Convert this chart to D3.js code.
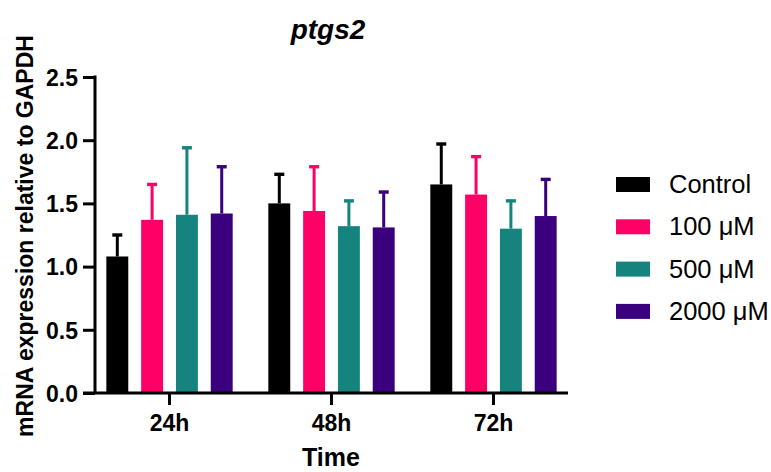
<!DOCTYPE html>
<html>
<head>
<meta charset="utf-8">
<script src="https://cdn.jsdelivr.net/npm/d3@7"></script>
<style>
  body { margin: 0; background: #fff; }
  svg { font-family: 'Liberation Sans', Arial, sans-serif; }
</style>
</head>
<body>
<div id="plot"></div>
<script>
// data
const times = ['24h', '48h', '72h'];
const groups = ['Control', '100 \u03bcM', '500 \u03bcM', '2000 \u03bcM'];
const colors = ['#000000', '#ff0066', '#16837e', '#3a007d'];
// mean per group, one array per time point
const means = [
    [1.08, 1.37, 1.41, 1.42],
    [1.50, 1.44, 1.32, 1.31],
    [1.65, 1.57, 1.30, 1.40]
];
// top of error bar
const errTop = [
    [1.25, 1.65, 1.94, 1.79],
    [1.73, 1.79, 1.52, 1.59],
    [1.97, 1.87, 1.52, 1.69]
];
const yTicks = [0, 0.5, 1.0, 1.5, 2.0, 2.5];

const width = 771, height = 472;
const margin = {top: 77, right: 203, bottom: 79, left: 95};

let svg = d3.select('#plot').append('svg')
    .attr('width', width)
    .attr('height', height);

let xs = d3.scaleBand()
    .domain(times)
    .range([margin.left, width - margin.right])
    .paddingInner(0.22)
    .paddingOuter(0.07);

let xInner = d3.scaleBand()
    .domain(groups)
    .range([0, xs.bandwidth()])
    .paddingInner(0.37)
    .paddingOuter(0);

let ys = d3.scaleLinear()
    .domain([0, 2.5])
    .range([height - margin.bottom, margin.top]);

let color = d3.scaleOrdinal().domain(groups).range(colors);

// flatten for drawing
let rows = [];
times.forEach((t, i) => {
    groups.forEach((g, j) => {
        rows.push({time: t, group: g, mean: means[i][j], top: errTop[i][j]});
    });
});

let chart = svg.append('g');

// error bars (upper only), drawn before the bars
let cap = 5;
let eb = chart.selectAll('.err')
    .data(rows)
    .enter()
    .append('g')
    .attr('class', 'err')
    .style('stroke', d => color(d.group))
    .style('stroke-width', '3px');

eb.append('line')
    .attr('x1', d => xs(d.time) + xInner(d.group) + xInner.bandwidth() / 2)
    .attr('x2', d => xs(d.time) + xInner(d.group) + xInner.bandwidth() / 2)
    .attr('y1', d => ys(d.mean))
    .attr('y2', d => ys(d.top));

eb.append('line')
    .attr('x1', d => xs(d.time) + xInner(d.group) + xInner.bandwidth() / 2 - cap)
    .attr('x2', d => xs(d.time) + xInner(d.group) + xInner.bandwidth() / 2 + cap)
    .attr('y1', d => ys(d.top))
    .attr('y2', d => ys(d.top))
    .style('stroke-width', '3.4px');

chart.selectAll('.bar')
    .data(rows)
    .enter()
    .append('rect')
    .attr('class', 'bar')
    .attr('x', d => xs(d.time) + xInner(d.group))
    .attr('width', xInner.bandwidth())
    .attr('y', d => ys(d.mean))
    .attr('height', d => ys(0) - ys(d.mean))
    .style('fill', d => color(d.group));

// y axis
let yAxis = d3.axisLeft(ys)
    .tickValues(yTicks)
    .tickFormat(d3.format('.1f'))
    .tickSize(12)
    .tickPadding(5);

let gy = svg.append('g')
    .attr('transform', 'translate(' + margin.left + ',0)')
    .call(yAxis);
gy.select('.domain').remove();
gy.append('line')
    .attr('x1', 0).attr('x2', 0)
    .attr('y1', ys(2.5) - 1.5).attr('y2', ys(0))
    .style('stroke', 'black').style('stroke-width', '3px');
gy.selectAll('.tick line').style('stroke-width', '3px');
gy.selectAll('.tick text')
    .style('font-size', '23px')
    .style('font-weight', 'bold')
    .style('fill', 'black')
    .attr('dy', '0.36em');

// x axis
let xAxis = d3.axisBottom(xs)
    .tickSize(12)
    .tickPadding(10);

let gx = svg.append('g')
    .attr('transform', 'translate(0,' + ys(0) + ')')
    .call(xAxis);
gx.select('.domain').remove();
gx.append('line')
    .attr('x1', margin.left - 12).attr('x2', width - margin.right)
    .attr('y1', 0).attr('y2', 0)
    .style('stroke', 'black').style('stroke-width', '3px');
gx.selectAll('.tick line').style('stroke-width', '3px');
gx.selectAll('.tick text')
    .style('font-size', '23px')
    .style('font-weight', 'bold')
    .style('fill', 'black');

// titles
svg.append('text')
    .attr('x', 328)
    .attr('y', 39)
    .style('text-anchor', 'middle')
    .style('font-size', '28px')
    .style('font-weight', 'bold')
    .style('font-style', 'italic')
    .text('ptgs2');

svg.append('text')
    .attr('x', 331)
    .attr('y', 466)
    .style('text-anchor', 'middle')
    .style('font-size', '25px')
    .style('font-weight', 'bold')
    .text('Time');

svg.append('text')
    .attr('transform', 'rotate(-90)')
    .attr('x', -236)
    .attr('y', 33)
    .style('text-anchor', 'middle')
    .style('font-size', '23px')
    .style('font-weight', 'bold')
    .text('mRNA expression relative to GAPDH');

// legend
let legend = svg.selectAll('.legend')
    .data(groups)
    .enter()
    .append('g')
    .attr('class', 'legend')
    .attr('transform', (d, i) => 'translate(616,' + (184 + i * 42.3) + ')');

legend.append('rect')
    .attr('x', 0)
    .attr('y', -7)
    .attr('width', 34)
    .attr('height', 15)
    .style('fill', color);

legend.append('text')
    .attr('x', 53)
    .attr('y', 0)
    .attr('dy', '0.36em')
    .style('font-size', '25.5px')
    .style('fill', 'black')
    .text(d => d);
</script>
</body>
</html>
